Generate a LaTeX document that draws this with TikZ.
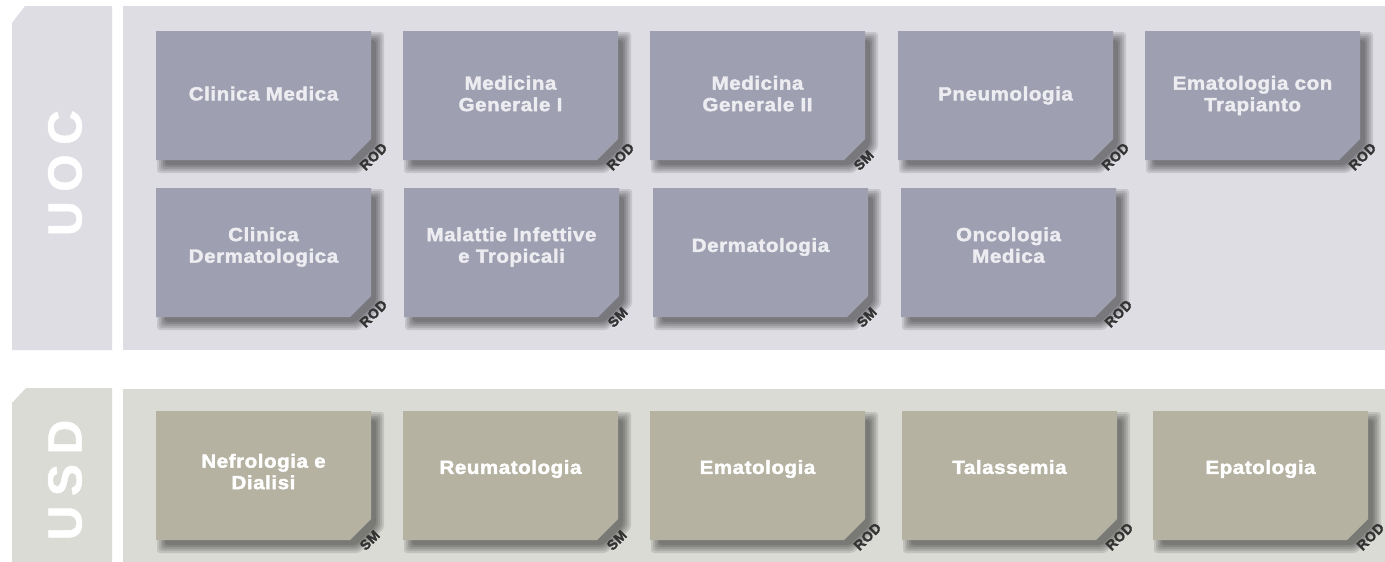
\documentclass[tikz,border=0pt]{standalone}
\usepackage{fontspec}
\setmainfont{Liberation Sans}
\newfontfamily\boxfont{Liberation Sans}[LetterSpace=3, FakeBold=2, FakeStretch=1.08]
\newfontfamily\tagfont{Liberation Sans}[LetterSpace=3, FakeBold=2]
\newfontfamily\tabfont{Liberation Sans}[LetterSpace=20, FakeBold=1]
\definecolor{uocbg}{HTML}{DEDDE3}
\definecolor{usdbg}{HTML}{DADBD5}
\definecolor{uocbox}{HTML}{9E9FB1}
\definecolor{usdbox}{HTML}{B5B2A2}
\definecolor{uoctext}{HTML}{ECECF1}
\definecolor{tagtext}{HTML}{333333}
\tikzset{
  panel/.style={fill=#1, draw=none},
  boxshape/.style={fill=#1, draw=none},
  shadowlayer/.style={fill=black, fill opacity=0.11, draw=none, rounded corners=3pt},
  boxtext/.style={font={\boxfont\bfseries\fontsize{19}{21.5}\selectfont}, align=center, text depth=0pt, inner sep=0pt, text=#1},
  tagtext/.style={font={\tagfont\bfseries\fontsize{14}{16}\selectfont}, text=tagtext, rotate=45, anchor=west, inner sep=0pt},
  tabtext/.style={font={\tabfont\bfseries\fontsize{48}{56}\selectfont}, text=white, rotate=90, inner sep=0pt},
}
\newcommand{\boxpath}[2]{(#1,#2) -- ++(215,0) -- ++(0,108) -- ++(-21,21) -- ++(-194,0) -- cycle}
% shadow outline of a box at (#1,#2), grown by #3
\newcommand{\shpath}[3]{({#1-#3},{#2-#3}) -- ({#1+215+#3},{#2-#3}) -- ({#1+215+#3},{#2+108+0.41*#3}) -- ({#1+194+0.41*#3},{#2+129+#3}) -- ({#1-#3},{#2+129+#3}) -- cycle}
% #1 name, #2 x, #3 y, #4 box colour, #5 text colour, #6 text, #7 tag, #8 text y offset
\newcommand{\unitbox}[8]{%
  \foreach \d in {6,4,2,0,-2}{\path[shadowlayer] \shpath{#2+7}{#3+7}{\d};}
  \fill[boxshape=#4] \boxpath{#2}{#3};
  \node[boxtext=#5] (#1) at ({#2+107.5},{#3+#8}) {#6};
  \node[tagtext] (#1-tag) at ({#2+206},{#3+137}) {#7};
}
\begin{document}
\begin{tikzpicture}[x=1pt,y=-1pt]
\useasboundingbox (0,0) rectangle (1385,562);
\fill[white] (0,0) rectangle (1385,562);
% UOC section
\fill[panel=uocbg] (12,23) -- (25,6) -- (112,6) -- (112,350) -- (12,350) -- cycle;
\fill[panel=uocbg] (123,6) rectangle (1385,350);
\node[tabtext] (uoc) at (65,173) {UOC};
% USD section
\fill[panel=usdbg] (12,403) -- (26,388) -- (112,388) -- (112,562) -- (12,562) -- cycle;
\fill[panel=usdbg] (123,389) rectangle (1385,562);
\node[tabtext] (usd) at (65,480) {USD};
% UOC row 1
\unitbox{b1}{156}{31}{uocbox}{uoctext}{Clinica Medica}{ROD}{62.5}
\unitbox{b2}{403}{31}{uocbox}{uoctext}{Medicina\\Generale I}{ROD}{62.5}
\unitbox{b3}{650}{31}{uocbox}{uoctext}{Medicina\\Generale II}{SM}{62.5}
\unitbox{b4}{898}{31}{uocbox}{uoctext}{Pneumologia}{ROD}{62.5}
\unitbox{b5}{1145}{31}{uocbox}{uoctext}{Ematologia con\\Trapianto}{ROD}{62.5}
% UOC row 2
\unitbox{b6}{156}{188}{uocbox}{uoctext}{Clinica\\Dermatologica}{ROD}{57}
\unitbox{b7}{404}{188}{uocbox}{uoctext}{Malattie Infettive\\e Tropicali}{SM}{57}
\unitbox{b8}{653}{188}{uocbox}{uoctext}{Dermatologia}{SM}{57}
\unitbox{b9}{901}{188}{uocbox}{uoctext}{Oncologia\\Medica}{ROD}{57}
% USD row
\unitbox{c1}{156}{411}{usdbox}{white}{Nefrologia e\\Dialisi}{SM}{60.5}
\unitbox{c2}{403}{411}{usdbox}{white}{Reumatologia}{SM}{56}
\unitbox{c3}{650}{411}{usdbox}{white}{Ematologia}{ROD}{56}
\unitbox{c4}{902}{411}{usdbox}{white}{Talassemia}{ROD}{56}
\unitbox{c5}{1153}{411}{usdbox}{white}{Epatologia}{ROD}{56}
\end{tikzpicture}
\end{document}
